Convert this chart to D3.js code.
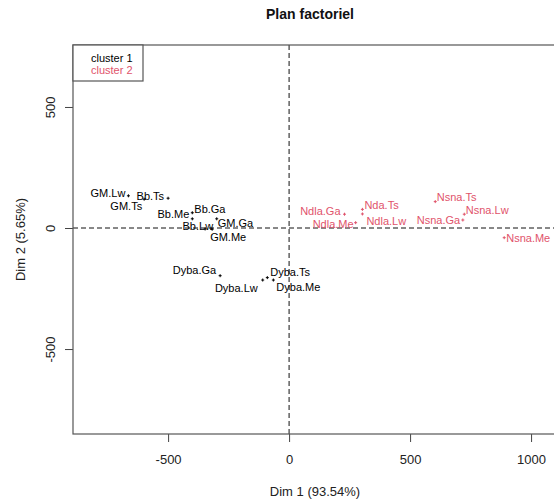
<!DOCTYPE html>
<html>
<head>
<meta charset="utf-8">
<script src="https://cdn.jsdelivr.net/npm/d3@7"></script>
<style>
  body { margin: 0; background: #fff; }
  svg { display: block; font-family: "Liberation Sans", Arial, sans-serif; }
</style>
</head>
<body>
<svg id="chart" width="554" height="499"></svg>
<script>
// individus (coordonnées)
const names = ["GM.Lw", "GM.Ts", "Bb.Ts", "Bb.Ga", "Bb.Me", "GM.Ga", "Bb.Lw", "GM.Me",
    "Dyba.Ga", "Dyba.Lw", "Dyba.Ts", "Dyba.Me",
    "Ndla.Ga", "Ndla.Me", "Nda.Ts", "Ndla.Lw", "Nsna.Ts", "Nsna.Lw", "Nsna.Ga", "Nsna.Me"];
const dim1 = [-664, -599, -500, -400, -400, -299, -347, -318,
    -285, -109, -90, -65,
    229, 275, 303, 303, 604, 724, 718, 889];
const dim2 = [133, 119, 123, 63, 38, 38, -4, -5,
    -197, -215, -205, -215,
    57, 22, 77, 58, 109, 57, 33, -40];
const cluster = [1, 1, 1, 1, 1, 1, 1, 1, 1, 1, 1, 1, 2, 2, 2, 2, 2, 2, 2, 2];

const xTicks = [-500, 0, 500, 1000];
const yTicks = [-500, 0, 500];
const legendLabels = ["cluster 1", "cluster 2"];

// placement des étiquettes (décalage en px, ancrage)
const labelLayout = [
    [-3, -2.5, "end"], [-2, 7, "end"], [-4, -2.5, "end"], [2, -4, "start"], [-3, -5, "end"],
    [1, 4.5, "start"], [8, -2.5, "end"], [-2, 7.5, "start"],
    [-4, -5.5, "end"], [-5, 8.5, "end"], [3, -5.5, "start"], [3, 7, "start"],
    [-4, -3.5, "end"], [-2, 1.5, "end"], [2, -4.3, "start"], [4, 7, "start"],
    [1.5, -4.4, "start"], [1.5, -4, "start"], [-2.7, 0, "end"], [2, 0, "start"]
];

const colors = { 1: "#000000", 2: "#DF536B" };

const mLeft = 73, mRight = 556, mTop = 45, mBottom = 434;

const svg = d3.select("#chart");

const x = d3.scaleLinear().domain([-893, 1103]).range([mLeft, mRight]);
const y = d3.scaleLinear().domain([-851, 756]).range([mBottom, mTop]);

// titre
svg.append("text")
    .attr("x", 310).attr("y", 19)
    .attr("text-anchor", "middle")
    .attr("font-size", 14).attr("font-weight", "bold")
    .attr("fill", "#111")
    .text("Plan factoriel");

// axe x
const gx = svg.append("g")
    .attr("transform", `translate(0,${mBottom})`)
    .call(d3.axisBottom(x).tickValues(xTicks).tickSize(8).tickPadding(13)
        .tickFormat(d => String(d)));
gx.select(".domain").remove();
gx.selectAll(".tick line").attr("stroke", "#444");
gx.selectAll(".tick text").attr("font-size", 13).attr("fill", "#222")
    .attr("font-family", "Liberation Sans, Arial, sans-serif");

// axe y
const gy = svg.append("g")
    .attr("transform", `translate(${mLeft},0)`)
    .call(d3.axisLeft(y).tickValues(yTicks).tickSize(8).tickFormat(d => String(d)));
gy.select(".domain").remove();
gy.selectAll(".tick line").attr("stroke", "#444");
gy.selectAll(".tick text")
    .attr("x", 0).attr("y", -18).attr("dy", 0)
    .attr("text-anchor", "middle")
    .attr("transform", "rotate(-90)")
    .attr("font-size", 13).attr("fill", "#222")
    .attr("font-family", "Liberation Sans, Arial, sans-serif");

// titres des axes
svg.append("text")
    .attr("x", 315).attr("y", 496)
    .attr("text-anchor", "middle").attr("font-size", 13).attr("fill", "#222")
    .text("Dim 1 (93.54%)");
svg.append("text")
    .attr("transform", `translate(25,${(mTop + mBottom) / 2}) rotate(-90)`)
    .attr("text-anchor", "middle").attr("font-size", 13).attr("fill", "#222")
    .text("Dim 2 (5.65%)");

// lignes pointillées à l'origine
svg.append("line")
    .attr("x1", mLeft).attr("x2", mRight)
    .attr("y1", y(0)).attr("y2", y(0))
    .attr("stroke", "#111").attr("stroke-dasharray", "5,3");
svg.append("line")
    .attr("x1", x(0)).attr("x2", x(0))
    .attr("y1", mTop).attr("y2", mBottom)
    .attr("stroke", "#111").attr("stroke-dasharray", "5,3");

// cadre
svg.append("rect")
    .attr("x", mLeft).attr("y", mTop)
    .attr("width", mRight - mLeft).attr("height", mBottom - mTop)
    .attr("fill", "none").attr("stroke", "#555").attr("stroke-width", 1.2);

const idx = d3.range(names.length);

// points
svg.selectAll("path.pt")
    .data(idx)
    .enter()
    .append("path")
    .attr("class", "pt")
    .attr("transform", i => `translate(${x(dim1[i])},${y(dim2[i])})`)
    .attr("d", "M-1.5,0H1.5M0,-1.5V1.5")
    .attr("stroke", i => colors[cluster[i]])
    .attr("stroke-width", 1);

// étiquettes
svg.selectAll("text.lab")
    .data(idx)
    .enter()
    .append("text")
    .attr("class", "lab")
    .attr("x", i => x(dim1[i]) + labelLayout[i][0])
    .attr("y", i => y(dim2[i]) + labelLayout[i][1])
    .attr("dy", "0.35em")
    .attr("text-anchor", i => labelLayout[i][2])
    .attr("font-size", 11)
    .attr("fill", i => colors[cluster[i]])
    .text(i => names[i]);

// légende
svg.append("rect")
    .attr("x", mLeft).attr("y", mTop)
    .attr("width", 70).attr("height", 36)
    .attr("fill", "#fff").attr("stroke", "#555").attr("stroke-width", 1.2);
svg.selectAll("text.leg")
    .data(legendLabels)
    .enter()
    .append("text")
    .attr("class", "leg")
    .attr("x", 91)
    .attr("y", (d, i) => 62 + i * 11.7)
    .attr("font-size", 11)
    .attr("fill", (d, i) => colors[i + 1])
    .text(d => d);
</script>
</body>
</html>
